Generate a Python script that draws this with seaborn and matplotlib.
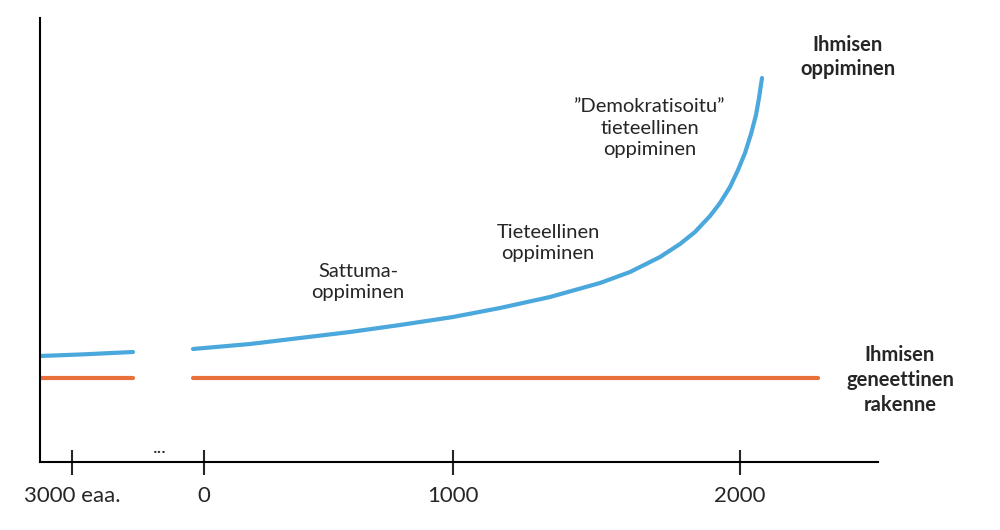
import matplotlib
matplotlib.use('Agg')
import matplotlib.pyplot as plt
import seaborn as sns
import pandas as pd

sns.set_style('white')
plt.rcParams['font.family'] = ['Lato', 'DejaVu Sans']

# x is a schematic position along the time axis, y is schematic height (inverted)
tick_pos = [72, 204, 453, 740]
tick_labels = ['3000 eaa.', '0', '1000', '2000']

blue_early_x = [40, 80, 133]
blue_early_y = [356, 354.5, 352]
blue_x = [193, 250, 300, 350, 400, 453, 500, 550, 600, 630, 660, 680, 695, 710,
          720, 730, 738, 745, 751, 756, 759, 762]
blue_y = [349, 344, 338, 332, 325, 317, 308, 297, 283, 272, 257, 244, 232, 216,
          203, 187, 170, 153, 134, 115, 98, 78]
orange_early_x = [40, 133]
orange_x = [193, 818]
orange_level = 378

blue = '#4aa8dc'
orange = '#e8703a'

fig = plt.figure(figsize=(10, 5.3), dpi=100)
ax = fig.add_axes([0.04, 68 / 530, 0.838, 444 / 530])

sns.lineplot(data=pd.DataFrame({'x': blue_early_x, 'y': blue_early_y}), x='x', y='y',
             color=blue, lw=3, ax=ax)
sns.lineplot(data=pd.DataFrame({'x': blue_x, 'y': blue_y}), x='x', y='y',
             color=blue, lw=3, ax=ax, sort=False)
for xs in (orange_early_x, orange_x):
    sns.lineplot(x=xs, y=[orange_level] * len(xs), color=orange, lw=3, ax=ax)

ax.set_xlim(40, 878)
ax.set_ylim(462, 18)
ax.set_xticks(tick_pos)
ax.set_xticklabels(tick_labels, fontsize=16)
ax.set_yticks([])
ax.set_xlabel('')
ax.set_ylabel('')
ax.tick_params(axis='x', direction='inout', length=18, width=1.5, pad=8, bottom=True)
for s in ['top', 'right']:
    ax.spines[s].set_visible(False)
for s in ['left', 'bottom']:
    ax.spines[s].set_linewidth(1.5)
    ax.spines[s].set_color('black')

ax.text(160, 456, '...', ha='center', va='bottom', fontsize=14)

fs = 14.5
ax.text(848, 57, 'Ihmisen\noppiminen', ha='center', va='center', fontsize=fs,
        fontweight='bold', clip_on=False, linespacing=1.3)
ax.text(900, 380, 'Ihmisen\ngeneettinen\nrakenne', ha='center', va='center', fontsize=fs,
        fontweight='bold', clip_on=False, linespacing=1.3)
ax.text(358, 282, 'Sattuma-\noppiminen', ha='center', va='center', fontsize=fs,
        linespacing=1.3)
ax.text(548, 243, 'Tieteellinen\noppiminen', ha='center', va='center', fontsize=fs,
        linespacing=1.3)
ax.text(650, 128, '”Demokratisoitu”\ntieteellinen\noppiminen', ha='center', va='center',
        fontsize=fs, linespacing=1.3)

fig.savefig('out.png', dpi=100)
